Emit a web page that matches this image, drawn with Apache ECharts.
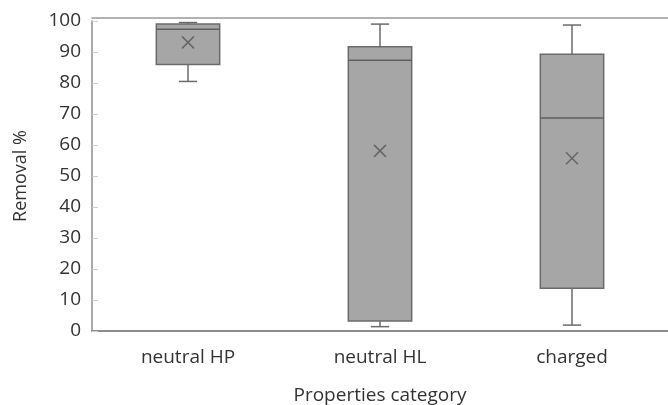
<!DOCTYPE html>
<html>
<head>
<meta charset="utf-8">
<script src="https://cdn.jsdelivr.net/npm/echarts@6/dist/echarts.min.js"></script>
<style>
html,body{margin:0;padding:0;background:#fff;}
#chart{width:668px;height:405px;}
</style>
</head>
<body>
<div id="chart"></div>
<script>
var categories = ['neutral HP', 'neutral HL', 'charged'];
var minVals = [80.5, 1.4, 1.9];
var q1Vals = [86.0, 3.2, 13.8];
var medianVals = [97.3, 87.3, 68.7];
var q3Vals = [99.0, 91.7, 89.3];
var maxVals = [99.5, 99.0, 98.7];
var meanVals = [93.1, 58.1, 55.7];
var yMin = 0, yMax = 100, yInterval = 10;
var xTitle = 'Properties category';
var yTitle = 'Removal %';

var FONT = 'Open Sans';
var TXT = '#333333';

var boxData = categories.map(function (c, i) {
  return [i, minVals[i], q1Vals[i], medianVals[i], q3Vals[i], maxVals[i]];
});
var meanData = categories.map(function (c, i) { return [i, meanVals[i]]; });

function renderBox(params, api) {
  var x = api.value(0);
  var pMin = api.coord([x, api.value(1)]);
  var pQ1 = api.coord([x, api.value(2)]);
  var pMed = api.coord([x, api.value(3)]);
  var pQ3 = api.coord([x, api.value(4)]);
  var pMax = api.coord([x, api.value(5)]);
  var band = api.size([1, 0])[0];
  var bw = band * 0.33;
  var cw = band * 0.095;
  var cx = pMed[0];
  var stroke = '#6b6b6b';
  var ls = {stroke: stroke, lineWidth: 1.5};
  return {
    type: 'group',
    children: [
      {type: 'line', shape: {x1: cx, y1: pMax[1], x2: cx, y2: pQ3[1]}, style: ls},
      {type: 'line', shape: {x1: cx, y1: pQ1[1], x2: cx, y2: pMin[1]}, style: ls},
      {type: 'line', shape: {x1: cx - cw / 2, y1: pMax[1], x2: cx + cw / 2, y2: pMax[1]}, style: ls},
      {type: 'line', shape: {x1: cx - cw / 2, y1: pMin[1], x2: cx + cw / 2, y2: pMin[1]}, style: ls},
      {type: 'rect', shape: {x: cx - bw / 2, y: pQ3[1], width: bw, height: pQ1[1] - pQ3[1]},
        style: {fill: '#a6a6a6', stroke: stroke, lineWidth: 1.5}},
      {type: 'line', shape: {x1: cx - bw / 2, y1: pMed[1], x2: cx + bw / 2, y2: pMed[1]},
        style: {stroke: '#5f5f5f', lineWidth: 1.5}}
    ]
  };
}

var chart = echarts.init(document.getElementById('chart'), null, {renderer: 'canvas'});
chart.setOption({
  animation: false,
  backgroundColor: '#ffffff',
  grid: {left: 92, right: 0, top: 21, bottom: 74, containLabel: false, outerBoundsMode: 'none'},
  xAxis: [{
    type: 'category',
    data: categories,
    position: 'bottom',
    axisLine: {show: true, lineStyle: {color: '#8c8c8c', width: 2}},
    axisTick: {show: false},
    axisLabel: {color: TXT, fontFamily: FONT, fontSize: 19, margin: 17},
    name: xTitle,
    nameLocation: 'middle',
    nameGap: 55,
    nameTextStyle: {color: TXT, fontFamily: FONT, fontSize: 19},
    splitLine: {show: false}
  }, {
    type: 'category',
    data: categories,
    position: 'top',
    offset: 3,
    axisLine: {show: true, lineStyle: {color: '#999999', width: 1.5}},
    axisTick: {show: false},
    axisLabel: {show: false},
    splitLine: {show: false}
  }],
  yAxis: {
    type: 'value',
    min: yMin,
    max: yMax,
    interval: yInterval,
    axisLine: {show: true, lineStyle: {color: '#8c8c8c', width: 1.5}},
    axisTick: {show: true, inside: true, length: 6, lineStyle: {color: '#d0d0d0'}},
    axisLabel: {color: TXT, fontFamily: FONT, fontSize: 19, margin: 11},
    splitLine: {show: false},
    name: yTitle,
    nameLocation: 'middle',
    nameGap: 62,
    nameTextStyle: {color: TXT, fontFamily: FONT, fontSize: 18}
  },
  series: [{
    type: 'custom',
    renderItem: renderBox,
    data: boxData,
    encode: {x: 0, y: [1, 2, 3, 4, 5]},
    z: 2
  }, {
    type: 'scatter',
    data: meanData,
    symbol: 'path://M0,0L10,10M10,0L0,10',
    symbolSize: 12,
    itemStyle: {color: 'rgba(0,0,0,0)', borderColor: '#666666', borderWidth: 1.5, opacity: 1},
    z: 3
  }]
});
</script>
</body>
</html>
